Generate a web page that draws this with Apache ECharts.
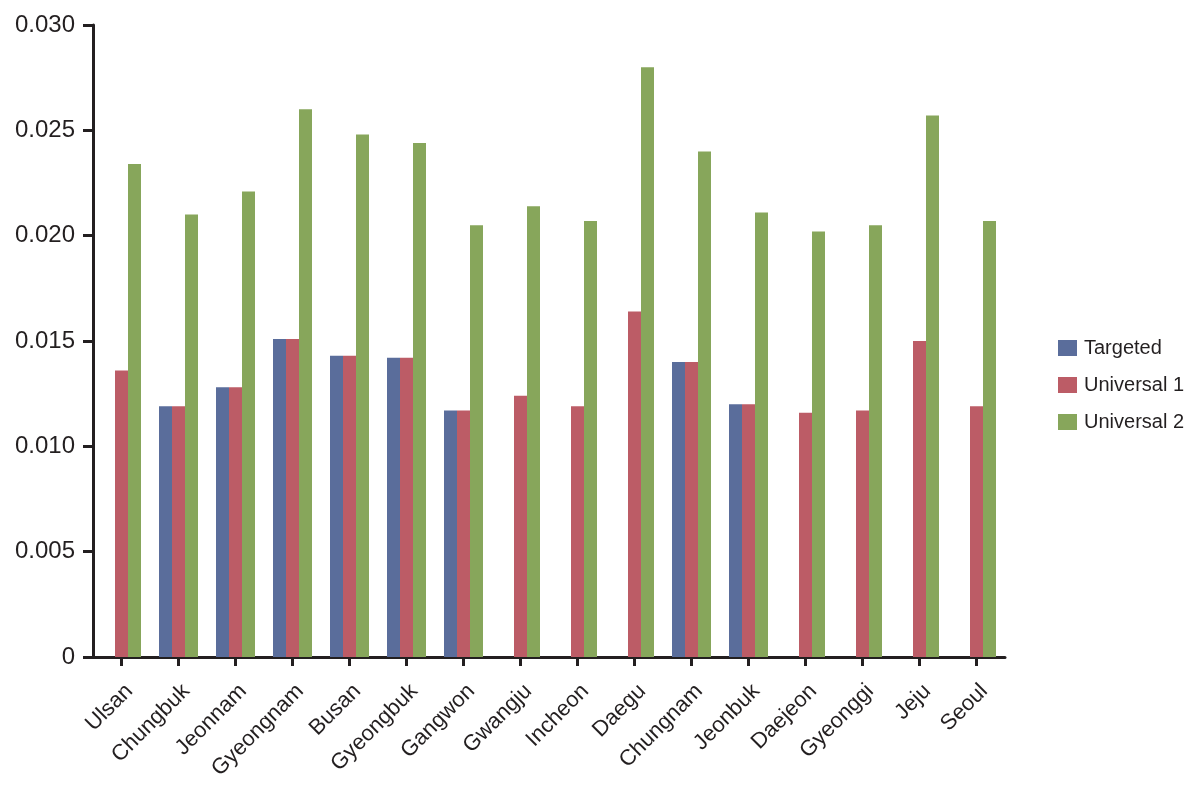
<!DOCTYPE html>
<html>
<head>
<meta charset="utf-8">
<style>
  html, body { margin: 0; padding: 0; background: #ffffff; }
  #chart { width: 1188px; height: 786px; }
</style>
<script src="https://cdn.jsdelivr.net/npm/echarts@6/dist/echarts.min.js"></script>
</head>
<body>
<div id="chart"></div>
<script>
const categories = ['Ulsan', 'Chungbuk', 'Jeonnam', 'Gyeongnam', 'Busan', 'Gyeongbuk', 'Gangwon', 'Gwangju', 'Incheon', 'Daegu', 'Chungnam', 'Jeonbuk', 'Daejeon', 'Gyeonggi', 'Jeju', 'Seoul'];
const seriesNames = ['Targeted', 'Universal 1', 'Universal 2'];
const targeted   = [0, 0.0119, 0.0128, 0.0151, 0.0143, 0.0142, 0.0117, 0, 0, 0, 0.0140, 0.0120, 0, 0, 0, 0];
const universal1 = [0.0136, 0.0119, 0.0128, 0.0151, 0.0143, 0.0142, 0.0117, 0.0124, 0.0119, 0.0164, 0.0140, 0.0120, 0.0116, 0.0117, 0.0150, 0.0119];
const universal2 = [0.0234, 0.0210, 0.0221, 0.0260, 0.0248, 0.0244, 0.0205, 0.0214, 0.0207, 0.0280, 0.0240, 0.0211, 0.0202, 0.0205, 0.0257, 0.0207];
const yTicks = { min: 0, max: 0.030, interval: 0.005 };

const FONT = "'Liberation Sans', Arial, sans-serif";
const INK = '#231f20';
const colors = ['#5a6d9b', '#bc5c66', '#87a65b'];

const chart = echarts.init(document.getElementById('chart'), null, { renderer: 'canvas' });
const mk = (name, data, i) => ({
  name: name,
  type: 'bar',
  data: data,
  barWidth: 13,
  barGap: '0%',
  itemStyle: { color: colors[i] },
  emphasis: { disabled: true }
});

chart.setOption({
  animation: false,
  backgroundColor: '#ffffff',
  textStyle: { fontFamily: FONT, color: INK },
  grid: { left: 93, right: 183, top: 25, bottom: 129, containLabel: false },
  legend: {
    orient: 'vertical',
    left: 1053,
    top: 333,
    itemWidth: 19,
    itemHeight: 16,
    itemGap: 17,
    icon: 'rect',
    selectedMode: false,
    textStyle: { fontFamily: FONT, fontSize: 20, color: INK, padding: [0, 0, 0, 2] },
    data: seriesNames
  },
  xAxis: {
    type: 'category',
    data: categories,
    axisLine: { show: true, lineStyle: { color: INK, width: 3 } },
    axisTick: { show: true, alignWithLabel: true, length: 9, lineStyle: { color: INK, width: 3 } },
    axisLabel: { rotate: 45, fontSize: 22, fontFamily: FONT, color: INK, margin: 23, interval: 0, verticalAlign: 'top' },
    splitLine: { show: false }
  },
  yAxis: {
    type: 'value',
    min: yTicks.min,
    max: yTicks.max,
    interval: yTicks.interval,
    axisLine: { show: true, lineStyle: { color: INK, width: 3 } },
    axisTick: { show: true, length: 10, lineStyle: { color: INK, width: 3 } },
    axisLabel: {
      fontSize: 24, fontFamily: FONT, color: INK, margin: 18,
      formatter: v => (v === 0 ? '0' : v.toFixed(3))
    },
    splitLine: { show: false }
  },
  series: [
    mk(seriesNames[0], targeted, 0),
    mk(seriesNames[1], universal1, 1),
    mk(seriesNames[2], universal2, 2)
  ]
});
</script>
</body>
</html>
